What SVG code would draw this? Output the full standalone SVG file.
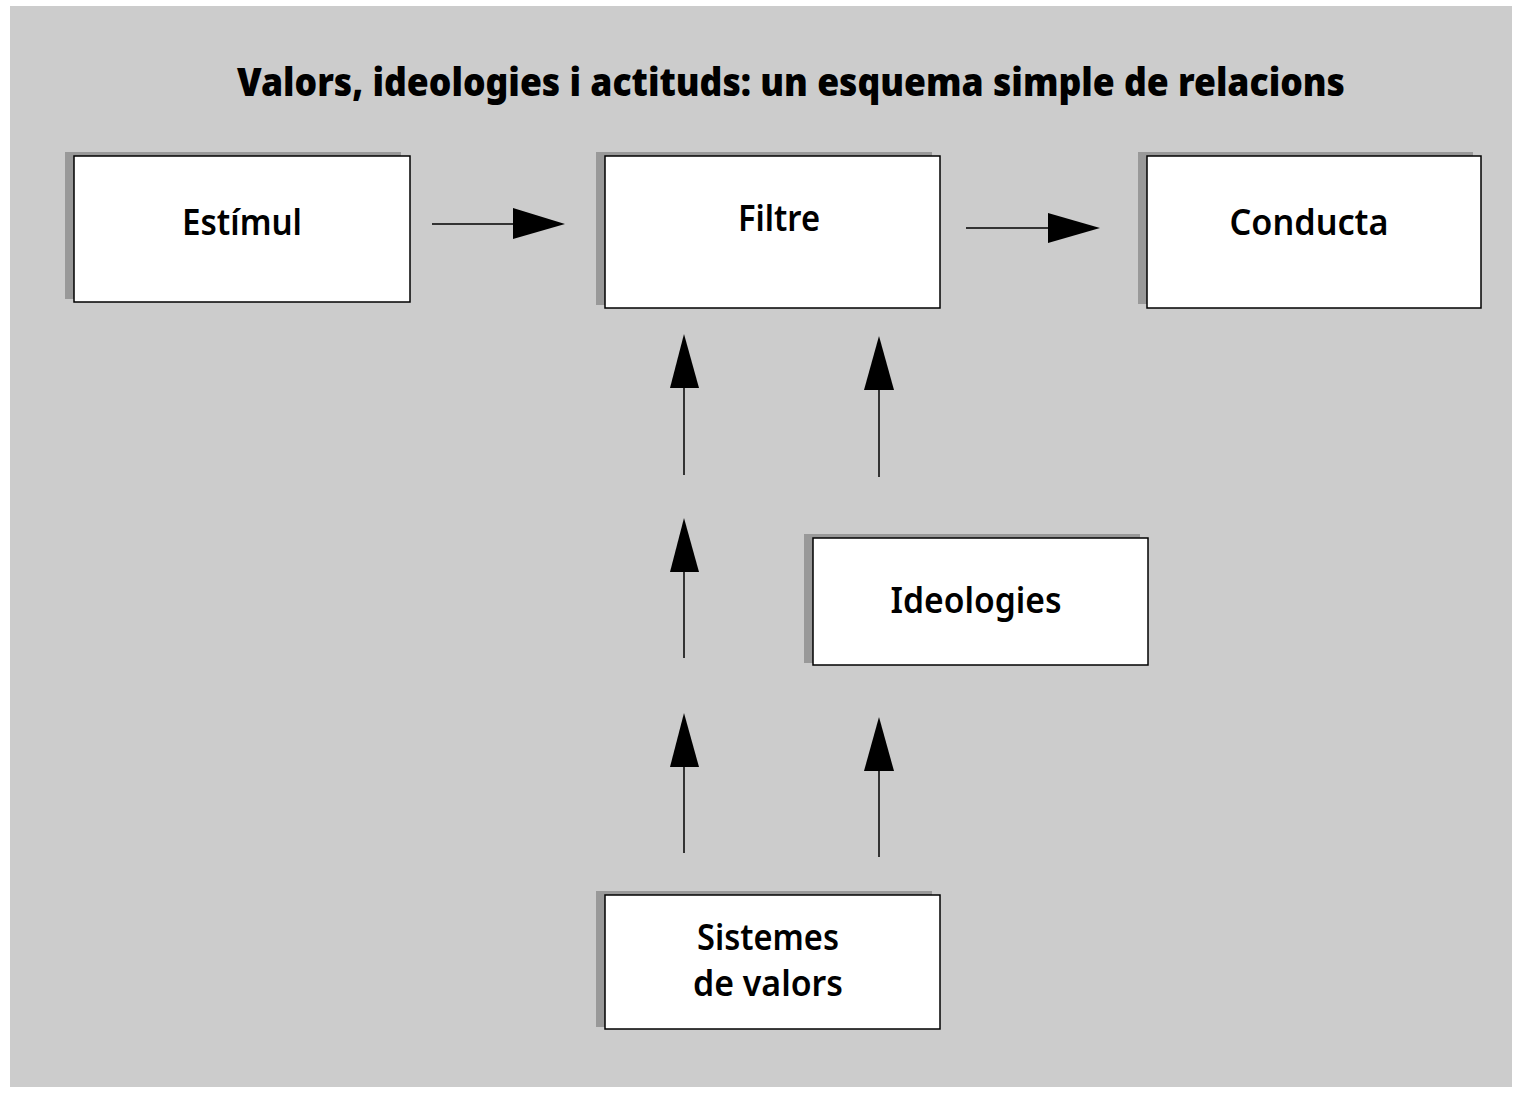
<svg xmlns="http://www.w3.org/2000/svg" width="1517" height="1093" viewBox="0 0 1517 1093">
<style>
.bg{fill:#cccccc}
.sh{fill:#999999}
.box{fill:#ffffff;stroke:#000000;stroke-width:1.5}
.lbl{font-family:"Noto Sans","Open Sans","Liberation Sans",sans-serif;font-weight:600;font-size:36px;fill:#000;text-anchor:middle}
.title{font-family:"Noto Sans","Open Sans","Liberation Sans",sans-serif;font-weight:900;font-size:39px;fill:#000}
.ln{stroke:#000;stroke-width:1.5;fill:none}
.hd{fill:#000}
</style>
<rect x="0" y="0" width="1517" height="1093" fill="#ffffff"/>
<rect class="bg" x="10" y="6" width="1502" height="1081"/>
<text class="title" x="237" y="96" textLength="1108" lengthAdjust="spacingAndGlyphs">Valors, ideologies i actituds: un esquema simple de relacions</text>
<g id="estimul">
<rect class="sh" x="65" y="152" width="336" height="147"/>
<rect class="box" x="74" y="156" width="336" height="146"/>
<text class="lbl" x="242" y="235" textLength="120" lengthAdjust="spacingAndGlyphs">Estímul</text>
</g>
<g id="filtre">
<rect class="sh" x="596" y="152" width="336" height="153"/>
<rect class="box" x="605" y="156" width="335" height="152"/>
<text class="lbl" x="779" y="231" textLength="82" lengthAdjust="spacingAndGlyphs">Filtre</text>
</g>
<g id="conducta">
<rect class="sh" x="1138" y="152" width="335" height="152"/>
<rect class="box" x="1147" y="156" width="334" height="152"/>
<text class="lbl" x="1309" y="235" textLength="159" lengthAdjust="spacingAndGlyphs">Conducta</text>
</g>
<g id="ideologies">
<rect class="sh" x="804" y="534" width="336" height="129"/>
<rect class="box" x="813" y="538" width="335" height="127"/>
<text class="lbl" x="976" y="613" textLength="171" lengthAdjust="spacingAndGlyphs">Ideologies</text>
</g>
<g id="sistemes">
<rect class="sh" x="596" y="891" width="336" height="136"/>
<rect class="box" x="605" y="895" width="335" height="134"/>
<text class="lbl" x="768" y="950" textLength="142" lengthAdjust="spacingAndGlyphs">Sistemes</text>
<text class="lbl" x="768" y="996" textLength="150" lengthAdjust="spacingAndGlyphs">de valors</text>
</g>
<g id="connectors">
<line class="ln" x1="432" y1="224" x2="515" y2="224"/>
<polygon class="hd" points="513,208 565,224 513,239"/>
<line class="ln" x1="966" y1="228" x2="1050" y2="228"/>
<polygon class="hd" points="1048,213 1100,228 1048,243"/>
<line class="ln" x1="684" y1="475" x2="684" y2="386"/>
<polygon class="hd" points="670,388 684,334 699,388"/>
<line class="ln" x1="879" y1="477" x2="879" y2="388"/>
<polygon class="hd" points="864,390 879,336 894,390"/>
<line class="ln" x1="684" y1="658" x2="684" y2="570"/>
<polygon class="hd" points="670,572 684,518 699,572"/>
<line class="ln" x1="684" y1="853" x2="684" y2="765"/>
<polygon class="hd" points="670,767 684,713 699,767"/>
<line class="ln" x1="879" y1="857" x2="879" y2="769"/>
<polygon class="hd" points="864,771 879,717 894,771"/>
</g>
</svg>
